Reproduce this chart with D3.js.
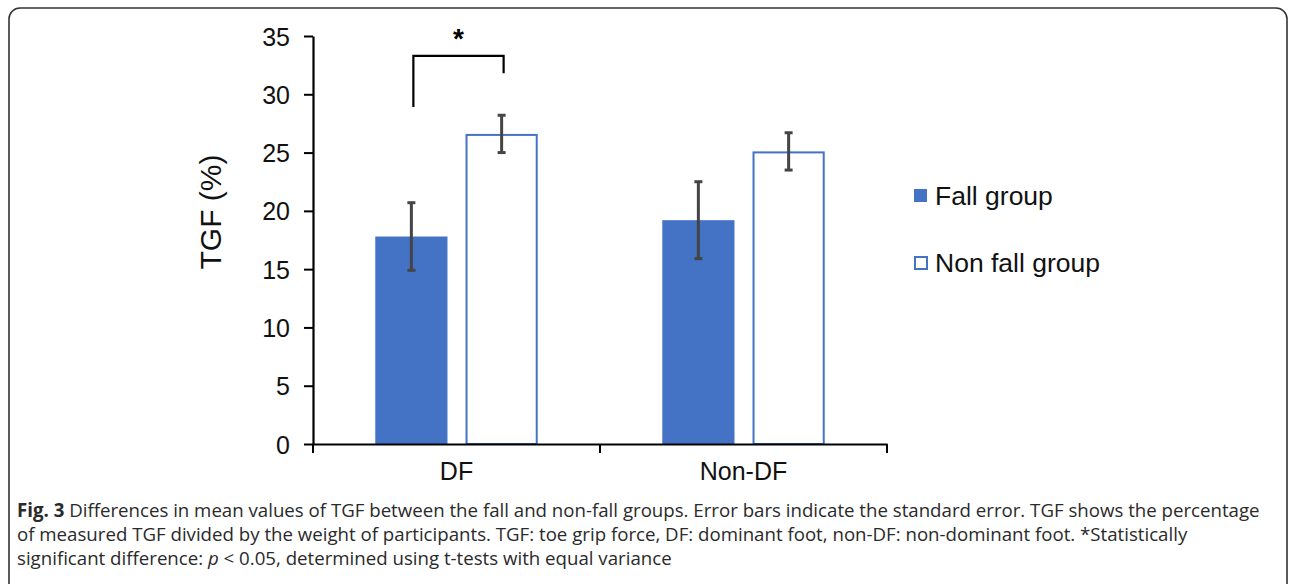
<!DOCTYPE html>
<html>
<head>
<meta charset="utf-8">
<script src="https://cdn.jsdelivr.net/npm/d3@7"></script>
<style>
  html, body { margin: 0; padding: 0; background: #fff; }
  svg { display: block; }
</style>
</head>
<body>
<svg id="chart" width="1292" height="584"></svg>
<script>
// ---- data ----
const categories = ["DF", "Non-DF"];
const seriesNames = ["Fall group", "Non fall group"];
const fallMeans = [17.8, 19.2];
const fallSE = [2.9, 3.3];
const nonFallMeans = [26.6, 25.1];
const nonFallSE = [1.6, 1.6];
const yTicks = [0, 5, 10, 15, 20, 25, 30, 35];
const sigBracket = { category: "DF", lowLeft: 28.9, top: 33.3, lowRight: 31.8, label: "*" };
const captionLines = [
  [{t: "Fig. 3", b: true}, {t: " Differences in mean values of TGF between the fall and non-fall groups. Error bars indicate the standard error. TGF shows the percentage"}],
  [{t: "of measured TGF divided by the weight of participants. TGF: toe grip force, DF: dominant foot, non-DF: non-dominant foot. *Statistically"}],
  [{t: "significant difference: "}, {t: "p", i: true}, {t: " < 0.05, determined using t-tests with equal variance"}]
];

(function () {
const rows = categories.map((c, i) => ({
  cat: c,
  values: [
    {s: seriesNames[0], v: fallMeans[i], se: fallSE[i]},
    {s: seriesNames[1], v: nonFallMeans[i], se: nonFallSE[i]}
  ]
}));

const svg = d3.select("#chart");
const blue = "#4472C4";
const errColor = "#454545";
const font = "Liberation Sans, Arial, sans-serif";

// frame
svg.append("rect").attr("x", 9).attr("y", 8).attr("width", 1278).attr("height", 590)
  .attr("rx", 11).attr("ry", 11).attr("fill", "none").attr("stroke", "#333").attr("stroke-width", 1.6);

const pLeft = 313, pRight = 887, pTop = 36, pBottom = 444;
const y = d3.scaleLinear().domain([0, 35]).range([pBottom, pTop]);
const x0 = d3.scaleBand().domain(categories).range([pLeft, pRight]).padding(0);
const x1 = d3.scaleBand().domain(seriesNames).range([0, x0.bandwidth()]).paddingInner(0.2).paddingOuter(0.69);

// y axis
const yAxis = svg.append("g").attr("transform", `translate(${pLeft},0)`)
  .call(d3.axisLeft(y).tickValues(yTicks).tickSize(9).tickPadding(14).tickSizeOuter(0));
yAxis.select(".domain").attr("stroke", "#000").attr("stroke-width", 2.2);
yAxis.selectAll(".tick line").attr("stroke", "#000").attr("stroke-width", 2);
yAxis.selectAll("text").attr("font-family", font).attr("font-size", 25).attr("fill", "#111").attr("dy", "0.36em");

// bars
const g = svg.append("g").selectAll("g").data(rows).join("g")
  .attr("transform", d => `translate(${x0(d.cat)},0)`);

const isNF = d => d.s === seriesNames[1];
g.selectAll("rect").data(d => d.values).join("rect")
  .attr("x", d => x1(d.s) + (isNF(d) ? 1 : 0))
  .attr("y", d => y(d.v) + (isNF(d) ? 1 : 0))
  .attr("width", d => x1.bandwidth() - (isNF(d) ? 2 : 0))
  .attr("height", d => y(0) - y(d.v) - (isNF(d) ? 1 : 0))
  .attr("fill", d => isNF(d) ? "#fff" : blue)
  .attr("stroke", d => isNF(d) ? blue : "none")
  .attr("stroke-width", 2);

// error bars
const eb = g.selectAll("g.err").data(d => d.values).join("g").attr("class", "err");
eb.append("line")
  .attr("x1", d => x1(d.s) + x1.bandwidth() / 2).attr("x2", d => x1(d.s) + x1.bandwidth() / 2)
  .attr("y1", d => y(d.v + d.se)).attr("y2", d => y(d.v - d.se))
  .attr("stroke", errColor).attr("stroke-width", 3);
[1, -1].forEach(sgn => {
  eb.append("line")
    .attr("x1", d => x1(d.s) + x1.bandwidth() / 2 - 4).attr("x2", d => x1(d.s) + x1.bandwidth() / 2 + 4)
    .attr("y1", d => y(d.v + sgn * d.se)).attr("y2", d => y(d.v + sgn * d.se))
    .attr("stroke", errColor).attr("stroke-width", 3);
});

// x axis
const xAxis = svg.append("g").attr("transform", `translate(0,${pBottom})`)
  .call(d3.axisBottom(x0).tickSize(0).tickPadding(18));
xAxis.select(".domain").attr("stroke", "#000").attr("stroke-width", 2.2);
xAxis.selectAll("text").attr("font-family", font).attr("font-size", 25).attr("fill", "#111").attr("dy", "0.71em");
const sepTicks = [pLeft].concat(categories.map(c => x0(c) + x0.bandwidth()));
svg.append("g").selectAll("line").data(sepTicks).join("line")
  .attr("x1", d => d).attr("x2", d => d).attr("y1", pBottom).attr("y2", pBottom + 9)
  .attr("stroke", "#000").attr("stroke-width", 2);

// significance bracket
const bx0 = x0(sigBracket.category) + x1(seriesNames[0]) + x1.bandwidth() / 2 + 2;
const bx1 = x0(sigBracket.category) + x1(seriesNames[1]) + x1.bandwidth() / 2 + 2;
svg.append("path")
  .attr("d", `M${bx0},${y(sigBracket.lowLeft)} V${y(sigBracket.top)} H${bx1} V${y(sigBracket.lowRight)}`)
  .attr("fill", "none").attr("stroke", "#000").attr("stroke-width", 2.2);
svg.append("text").attr("x", (bx0 + bx1) / 2).attr("y", 48)
  .attr("text-anchor", "middle").attr("font-family", font).attr("font-size", 28).attr("font-weight", "bold")
  .text(sigBracket.label);

// y label
svg.append("text").attr("transform", "translate(221,212) rotate(-90)")
  .attr("text-anchor", "middle").attr("font-family", font).attr("font-size", 30).attr("fill", "#111")
  .text("TGF (%)");

// legend
const leg = svg.append("g").selectAll("g").data(seriesNames).join("g")
  .attr("transform", (d, i) => `translate(914,${189 + i * 67})`);
leg.append("rect").attr("x", d => d === seriesNames[1] ? 1 : 0).attr("y", d => d === seriesNames[1] ? 1 : 0)
  .attr("width", d => d === seriesNames[1] ? 12 : 13).attr("height", d => d === seriesNames[1] ? 12 : 13)
  .attr("fill", d => d === seriesNames[0] ? blue : "#fff")
  .attr("stroke", d => d === seriesNames[0] ? "none" : blue).attr("stroke-width", 2);
leg.append("text").attr("x", 21).attr("y", 16).attr("font-family", font).attr("font-size", 26.5).attr("fill", "#111")
  .text(d => d);

// caption
const cap = svg.append("g");
const capFont = "'Open Sans', 'Noto Sans', sans-serif";
captionLines.forEach((line, i) => {
  const t = cap.append("text").attr("x", 17).attr("y", 517 + i * 24)
    .attr("font-family", capFont).attr("font-size", 17).attr("fill", "#2a2a2a");
  line.forEach(seg => {
    t.append("tspan").attr("font-weight", seg.b ? "bold" : null)
      .attr("font-style", seg.i ? "italic" : null).text(seg.t);
  });
});
const first = cap.select("text").node();
const w = first.getComputedTextLength();
const fs = 17 * 1244 / w;
cap.selectAll("text").attr("font-size", fs);
})();
</script>
</body>
</html>
